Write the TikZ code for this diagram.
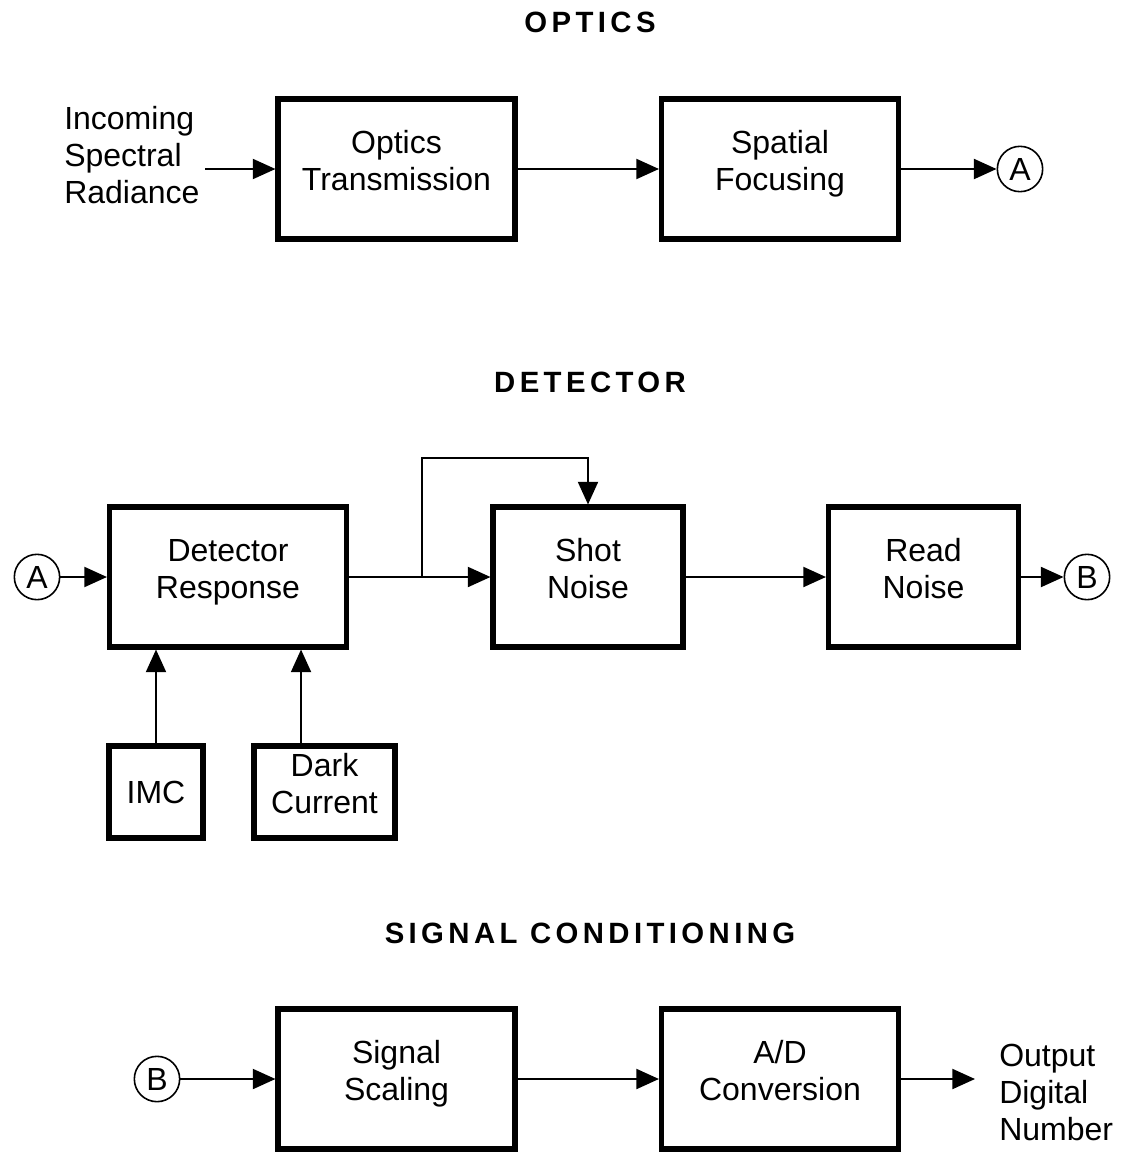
\documentclass[tikz,border=0pt]{standalone}
\usepackage{fontspec}
\setmainfont{Liberation Sans}
\newfontfamily\titlefont[LetterSpace=15]{Liberation Sans Bold}
\usetikzlibrary{arrows.meta}
\newcommand\bxtext[1]{\raisebox{3pt}[\height][\depth]{\begin{tabular}{@{}c@{}}#1\end{tabular}}}
\begin{document}
\begin{tikzpicture}[x=0.75pt,y=-0.75pt,
  blk/.style={draw,line width=3.8pt,align=center,inner sep=0pt,
    font=\fontsize{24pt}{27.75pt}\selectfont,minimum height=105pt},
  big/.style={blk,minimum width=177.75pt},
  mid/.style={blk,minimum width=142.5pt},
  small/.style={blk,minimum height=69pt},
  conn/.style={draw,line width=1.6pt},
  arr/.style={conn,-{Triangle[length=17pt,width=15pt]}},
  circ/.style={draw,circle,line width=1.2pt,minimum size=34pt,inner sep=0pt,
    font=\fontsize{24pt}{27pt}\selectfont},
  lbl/.style={align=left,inner sep=0pt,font=\fontsize{24pt}{27.75pt}\selectfont},
  ttl/.style={inner sep=0pt,font=\fontsize{22pt}{26pt}\titlefont}]
\useasboundingbox (0,0) rectangle (1123,1153);

% OPTICS
\node[ttl] (t1) at (590,22) {OPTICS};
\node[lbl,anchor=west] (inc) at (64,155) {Incoming\\Spectral\\Radiance};
\coordinate (incs) at (205,169);
\node[big] (ot) at (396.5,169) {\bxtext{Optics\\Transmission}};
\node[big] (sf) at (780,169) {\bxtext{Spatial\\Focusing}};
\node[circ] (a1) at (1020,169) {A};
\draw[arr] (incs) -- (ot.west);
\draw[arr] (ot.east) -- (sf.west);
\draw[arr] (sf.east) -- (a1.west);

% DETECTOR
\node[ttl] (t2) at (590,382) {DETECTOR};
\node[circ] (a2) at (37,577) {A};
\node[big] (dr) at (228,577) {\bxtext{Detector\\Response}};
\node[mid] (sn) at (588,577) {\bxtext{Shot\\Noise}};
\node[mid] (rn) at (923.5,577) {\bxtext{Read\\Noise}};
\node[circ] (b1) at (1087,577) {B};
\node[small,minimum width=70.5pt] (imc) at (156,792) {IMC};
\node[small,minimum width=105.75pt] (dc) at (324.5,792) {\bxtext{Dark\\Current}};
\coordinate (j) at (422,577);
\coordinate (jt) at (422,458);
\draw[arr] (a2.east) -- (dr.west);
\draw[arr] (dr.east) -- (sn.west);
\draw[arr] (j) -- (jt) -| (sn.north);
\draw[arr] (sn.east) -- (rn.west);
\draw[arr] (rn.east) -- (b1.west);
\draw[arr] (imc.north) -- (imc.north |- dr.south);
\draw[arr] ([xshift=-17.6pt]dc.north) -- ([xshift=-17.6pt]dc.north |- dr.south);

% SIGNAL CONDITIONING
\node[ttl] (t3) at (590,933) {SIGNAL CONDITIONING};
\node[circ] (b2) at (157,1079) {B};
\node[big] (ss) at (396.5,1079) {\bxtext{Signal\\Scaling}};
\node[big] (ad) at (780,1079) {\bxtext{A/D\\Conversion}};
\node[lbl,anchor=west] (out) at (999,1092) {Output\\Digital\\Number};
\coordinate (oute) at (975,1079);
\draw[arr] (b2.east) -- (ss.west);
\draw[arr] (ss.east) -- (ad.west);
\draw[arr] (ad.east) -- (oute);
\end{tikzpicture}
\end{document}
